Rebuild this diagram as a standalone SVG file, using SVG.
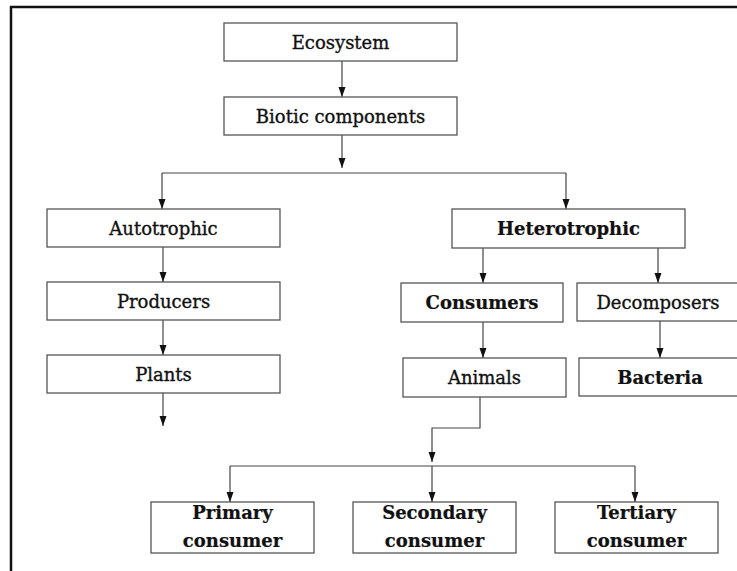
<svg xmlns="http://www.w3.org/2000/svg" width="737" height="571" viewBox="0 0 737 571">
<defs>
<marker id="ah" markerUnits="userSpaceOnUse" markerWidth="10" markerHeight="8" refX="10" refY="3.5" orient="auto">
<path d="M0,0 L10,3.5 L0,7 z" fill="#111"/>
</marker>
<style>
.box{fill:#fff;stroke:#555;stroke-width:1.3}
.t{font-family:"DejaVu Serif","Liberation Serif",serif;font-size:18px;fill:#111;text-anchor:middle;stroke:#111;stroke-width:0.35}
.b{font-weight:bold;stroke-width:0.2}
.c{fill:none;stroke:#444;stroke-width:1.2}
.a{marker-end:url(#ah)}
.frame{fill:none;stroke:#111;stroke-width:2.5}
</style>
</defs>
<rect width="737" height="571" fill="#fff"/>
<path class="frame" d="M11,571 L11,7 L740,7"/>
<g id="connectors">
<path class="c a" d="M342,61 L342,97"/>
<path class="c a" d="M342,135 L342,168"/>
<path class="c" d="M162,173 L566,173"/>
<path class="c a" d="M162,173 L162,209"/>
<path class="c a" d="M566,173 L566,209"/>
<path class="c a" d="M163,247 L163,282"/>
<path class="c a" d="M163,320 L163,355"/>
<path class="c a" d="M163,393 L163,426"/>
<path class="c a" d="M483,248 L483,283"/>
<path class="c a" d="M658,248 L658,283"/>
<path class="c a" d="M483,322 L483,358"/>
<path class="c a" d="M660,321 L660,358"/>
<path class="c a" d="M480,397 L480,428 L432,428 L432,462"/>
<path class="c" d="M230,466 L635,466"/>
<path class="c a" d="M230,466 L230,502"/>
<path class="c a" d="M432,466 L432,502"/>
<path class="c a" d="M635,466 L635,502"/>
</g>
<g id="ecosystem"><rect class="box" x="224" y="23" width="233" height="38"/><text class="t" x="340.5" y="48.5">Ecosystem</text></g>
<g id="biotic"><rect class="box" x="224" y="97" width="233" height="38"/><text class="t" x="340.5" y="122.5">Biotic components</text></g>
<g id="autotrophic"><rect class="box" x="47" y="209" width="233" height="38"/><text class="t" x="163.5" y="234.5">Autotrophic</text></g>
<g id="producers"><rect class="box" x="47" y="282" width="233" height="38"/><text class="t" x="163.5" y="307.5">Producers</text></g>
<g id="plants"><rect class="box" x="47" y="355" width="233" height="38"/><text class="t" x="163.5" y="380.5">Plants</text></g>
<g id="heterotrophic"><rect class="box" x="452" y="209" width="233" height="39"/><text class="t b" x="568.5" y="235">Heterotrophic</text></g>
<g id="consumers"><rect class="box" x="401" y="283" width="162" height="39"/><text class="t b" x="482" y="309">Consumers</text></g>
<g id="decomposers"><rect class="box" x="577" y="283" width="165" height="38"/><text class="t" x="658" y="308.5">Decomposers</text></g>
<g id="animals"><rect class="box" x="403" y="358" width="163" height="39"/><text class="t" x="484.5" y="384">Animals</text></g>
<g id="bacteria"><rect class="box" x="579" y="358" width="165" height="38"/><text class="t b" x="660" y="383.5">Bacteria</text></g>
<g id="primary"><rect class="box" x="151" y="502" width="163" height="51"/><text class="t b" x="232.5" y="519">Primary</text><text class="t b" x="232.5" y="547">consumer</text></g>
<g id="secondary"><rect class="box" x="353" y="502" width="163" height="51"/><text class="t b" x="434.5" y="519">Secondary</text><text class="t b" x="434.5" y="547">consumer</text></g>
<g id="tertiary"><rect class="box" x="555" y="502" width="163" height="51"/><text class="t b" x="636.5" y="519">Tertiary</text><text class="t b" x="636.5" y="547">consumer</text></g>
</svg>
